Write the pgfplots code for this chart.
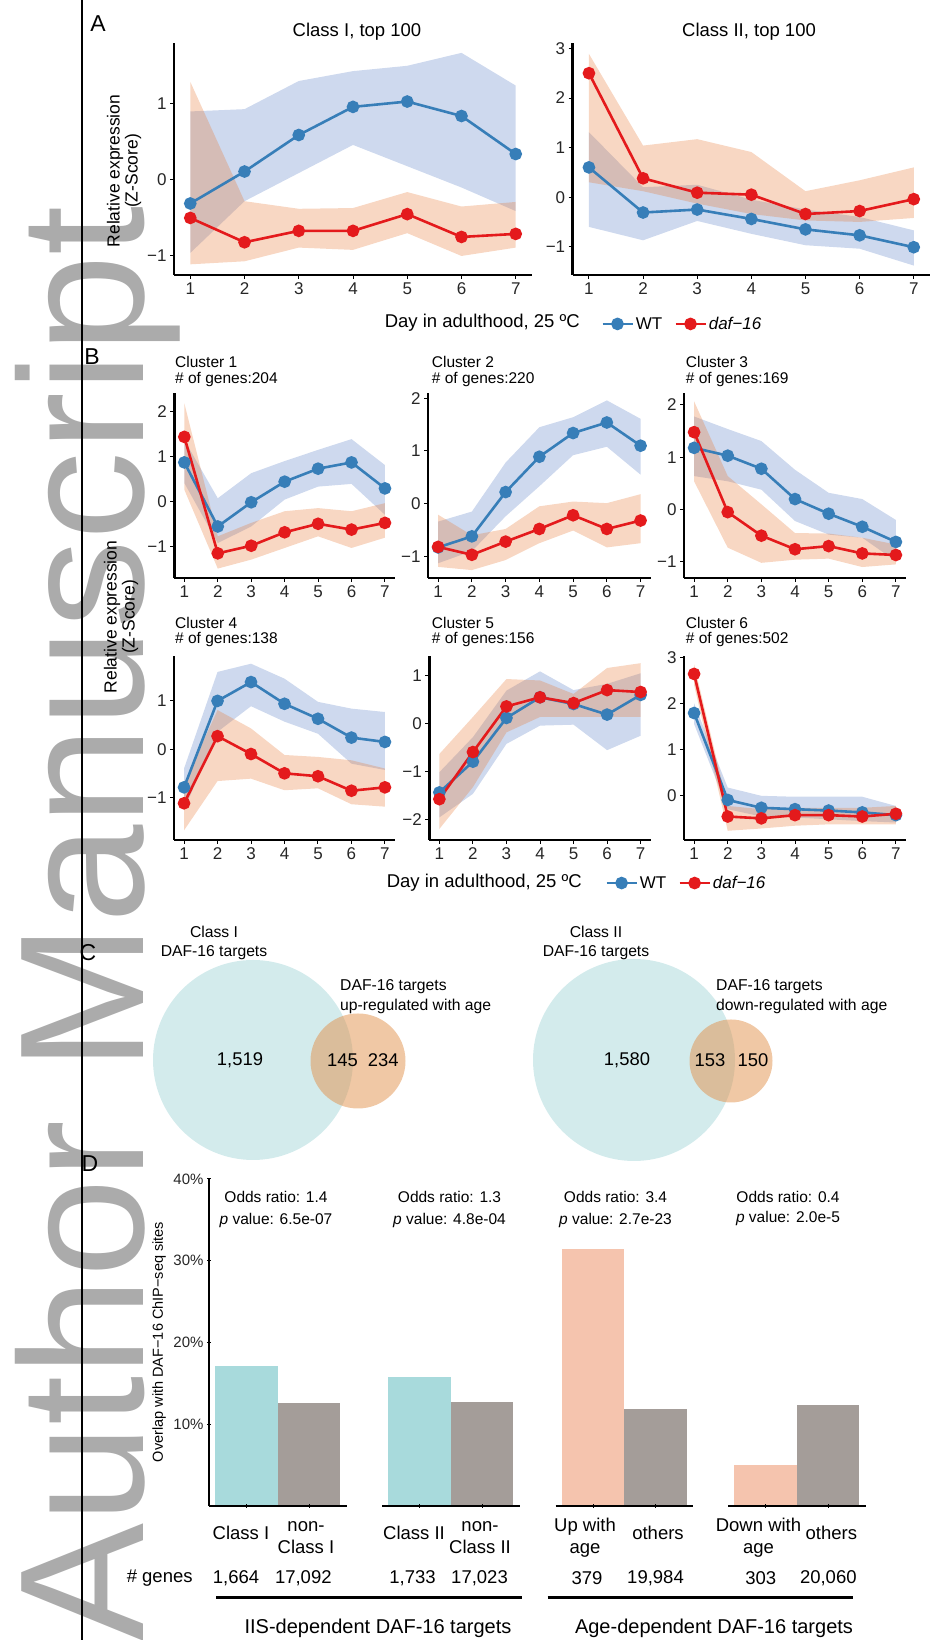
\documentclass[border=0pt]{standalone}
\usepackage{fontspec}
\setmainfont{Liberation Sans}
\usepackage{pgfplots}
\pgfplotsset{compat=1.18}
\usepackage{pgfplotstable}

\definecolor{wtc}{RGB}{55,126,184}
\definecolor{dafc}{RGB}{228,26,28}
\definecolor{ribb}{RGB}{92,128,198}
\definecolor{ribo}{RGB}{232,122,55}
\definecolor{barcyan}{RGB}{168,218,220}
\definecolor{bargray}{RGB}{164,157,153}
\definecolor{barpeach}{RGB}{245,196,174}
\definecolor{venncyan}{RGB}{168,216,218}
\definecolor{vennorange}{RGB}{225,145,75}

\newcommand{\fs}[2]{\fontsize{#1}{#2}\selectfont}

% ---------- data: means ----------
\pgfplotstableread{
day wt daf
1 -0.31 -0.50
2 0.11 -0.82
3 0.59 -0.67
4 0.96 -0.67
5 1.03 -0.45
6 0.84 -0.75
7 0.34 -0.71
}\mAa
\pgfplotstableread{
day wt daf
1 0.60 2.50
2 -0.31 0.38
3 -0.25 0.09
4 -0.44 0.05
5 -0.65 -0.34
6 -0.77 -0.28
7 -1.01 -0.04
}\mAb
\pgfplotstableread{
day wt daf
1 0.87 1.44
2 -0.56 -1.16
3 -0.02 -0.99
4 0.44 -0.69
5 0.73 -0.50
6 0.87 -0.63
7 0.29 -0.48
}\mBa
\pgfplotstableread{
day wt daf
1 -0.83 -0.82
2 -0.62 -0.97
3 0.22 -0.72
4 0.89 -0.48
5 1.34 -0.22
6 1.54 -0.48
7 1.10 -0.32
}\mBb
\pgfplotstableread{
day wt daf
1 1.18 1.48
2 1.03 -0.05
3 0.78 -0.50
4 0.20 -0.76
5 -0.08 -0.70
6 -0.33 -0.84
7 -0.62 -0.87
}\mBc
\pgfplotstableread{
day wt daf
1 -0.79 -1.12
2 1.00 0.27
3 1.39 -0.10
4 0.94 -0.50
5 0.63 -0.56
6 0.24 -0.86
7 0.15 -0.79
}\mBd
\pgfplotstableread{
day wt daf
1 -1.44 -1.58
2 -0.80 -0.60
3 0.11 0.35
4 0.54 0.54
5 0.40 0.42
6 0.18 0.69
7 0.59 0.65
}\mBe
\pgfplotstableread{
day wt daf
1 1.79 2.64
2 -0.10 -0.46
3 -0.27 -0.50
4 -0.30 -0.43
5 -0.33 -0.43
6 -0.37 -0.46
7 -0.43 -0.40
}\mBf

% ---------- data: ribbons (upper limits day 1..7, then lower limits day 7..1) ----------
\pgfplotstableread{
x wtr dafr
1 0.90 1.29
2 0.93 -0.28
3 1.30 -0.38
4 1.43 -0.37
5 1.50 -0.16
6 1.67 -0.35
7 1.24 -0.29
7 -0.41 -0.89
6 -0.10 -1.00
5 0.18 -0.70
4 0.46 -0.92
3 0.09 -0.89
2 -0.28 -1.07
1 -0.96 -1.11
}\rAa
\pgfplotstableread{
x wtr dafr
1 1.31 2.89
2 0.20 1.04
3 0.25 1.17
4 -0.05 0.91
5 -0.25 0.12
6 -0.40 0.34
7 -0.67 0.60
7 -1.38 -0.42
6 -1.04 -0.50
5 -0.97 -0.47
4 -0.74 -0.34
3 -0.48 -0.13
2 -0.87 0.12
1 -0.60 0.30
}\rAb
\pgfplotstableread{
x wtr dafr
1 1.37 2.19
2 0.07 -0.78
3 0.63 -0.48
4 0.90 -0.22
5 1.15 -0.15
6 1.39 -0.22
7 0.81 -0.04
7 -0.30 -0.81
6 0.39 -1.04
5 0.33 -0.78
4 0.04 -1.04
3 -0.56 -1.30
2 -0.93 -1.50
1 0.41 0.26
}\rBa
\pgfplotstableread{
x wtr dafr
1 -0.34 -0.21
2 -0.15 -0.60
3 0.78 -0.48
4 1.45 -0.05
5 1.64 0.04
6 1.96 0.01
7 1.61 0.18
7 0.55 -0.75
6 1.08 -0.83
5 0.92 -0.51
4 0.33 -0.75
3 -0.24 -1.07
2 -0.90 -1.26
1 -1.13 -1.20
}\rBb
\pgfplotstableread{
x wtr dafr
1 1.78 2.07
2 1.54 0.64
3 1.31 0.10
4 0.76 -0.45
5 0.32 -0.46
6 0.20 -0.54
7 -0.20 -0.67
7 -0.99 -1.05
6 -0.54 -1.10
5 -0.48 -0.94
4 -0.22 -0.96
3 0.38 -1.02
2 0.54 -0.73
1 0.64 0.54
}\rBc
\pgfplotstableread{
x wtr dafr
1 -0.40 -0.71
2 1.60 0.81
3 1.77 0.43
4 1.46 -0.12
5 0.98 -0.16
6 0.84 -0.23
7 0.77 -0.40
7 -0.43 -1.19
6 -0.30 -1.14
5 0.32 -0.81
4 0.57 -0.85
3 0.89 -0.61
2 0.36 -0.66
1 -1.26 -1.68
}\rBd
\pgfplotstableread{
x wtr dafr
1 -1.02 -0.64
2 -0.29 0.13
3 0.68 0.92
4 1.08 0.89
5 0.69 0.61
6 0.82 1.15
7 1.04 1.25
7 -0.26 0.13
6 -0.56 0.13
5 -0.03 0.13
4 -0.05 0.13
3 -0.43 -0.19
2 -1.47 -1.33
1 -1.96 -2.20
}\rBe
\pgfplotstableread{
x wtr dafr
1 2.00 2.85
2 0.17 -0.23
3 -0.01 -0.30
4 -0.03 -0.27
5 -0.03 -0.27
6 -0.03 -0.27
7 -0.23 -0.23
7 -0.59 -0.63
6 -0.56 -0.63
5 -0.52 -0.63
4 -0.48 -0.66
3 -0.46 -0.72
2 -0.30 -0.77
1 1.55 2.40
}\rBf

% ---------- styles ----------
\pgfplotsset{
  lp/.style={
    scale only axis, anchor=south west, axis on top,
    axis x line=bottom, axis y line=left,
    axis line style={-, line width=2.6pt, black},
    xmin=0.7, xmax=7.3, xtick={1,2,3,4,5,6,7}, xticklabels={1,2,3,4,5,6,7},
    tick align=outside, major tick length=4pt,
    tick style={line width=1pt, black},
    tick label style={font=\fs{17}{17}, text=black!85},
  },
  wtl/.style={wtc, line width=2.6pt, mark=*, mark size=5pt, mark options={solid, fill=wtc}},
  dfl/.style={dafc, line width=2.6pt, mark=*, mark size=5pt, mark options={solid, fill=dafc}},
  db/.style={
    scale only axis, anchor=south west, axis on top,
    width=137.5pt, height=327pt,
    xmin=0.4, xmax=2.6, ymin=0, ymax=40,
    xtick={1,2}, xticklabel=\empty,
    tick align=outside, major tick length=4pt,
    tick style={line width=1pt, black},
    tick label style={font=\fs{15}{15}, text=black!85},
  },
  dbn/.style={db, axis x line=bottom, axis y line=none, ytick=\empty,
    axis line style={-, line width=2.8pt, black}},
  legA/.style={
    legend columns=2,
    legend style={draw=none, fill=none, at={#1}, anchor=west,
      font=\fs{17}{17}, /tikz/every even column/.append style={column sep=10pt},
      cells={anchor=west}},
    legend image code/.code={\draw[mark repeat=2,mark phase=2,##1] plot coordinates {(0pt,0pt) (15pt,0pt) (30pt,0pt)};},
  },
}

\newcommand{\ribbons}[2]{%
  \addplot[fill=ribb, fill opacity=0.3, draw=none, forget plot] table[x=x,y=wtr]{#2} -- cycle;
  \addplot[fill=ribo, fill opacity=0.3, draw=none, forget plot] table[x=x,y=dafr]{#2} -- cycle;
  \addplot[wtl] table[x=day,y=wt]{#1};
  \addplot[dfl] table[x=day,y=daf]{#1};
}

\begin{document}
\begin{tikzpicture}
\path[use as bounding box] (0pt,0pt) rectangle (930pt,1640pt);

% watermark and margin line
\node[rotate=90, anchor=base west, inner sep=0pt, text=black!33, font=\fs{177}{177}] at (143pt,-2pt) {Author Manuscript};
\draw[line width=1.5pt] (82pt,0pt) -- (82pt,1640pt);

% ================= Panel A =================
\node[font=\fs{23}{23}] at (98pt,1616.5pt) {A};
\node[font=\fs{18.5}{18.5}] at (357pt,1608pt) {Class I, top 100};
\node[font=\fs{18.5}{18.5}] at (749pt,1608pt) {Class II, top 100};
\node[rotate=90, align=center, font=\fs{17.5}{18}] at (124pt,1469pt) {Relative expression\\(Z-Score)};

\begin{axis}[lp, at={(174pt,1365pt)}, width=358pt, height=232pt,
  ymin=-1.25, ymax=1.8, ytick={-1,0,1}, yticklabels={−1,0,1}]
\ribbons{\mAa}{\rAa}
\end{axis}

\begin{axis}[lp, at={(572.7pt,1365pt)}, width=357.3pt, height=232pt,
  ymin=-1.57, ymax=3.11, ytick={-1,0,1,2,3}, yticklabels={−1,0,1,2,3},
  legA={(0.0708,-0.211)}]
\ribbons{\mAb}{\rAb}
\legend{WT,\textit{daf−16}}
\end{axis}
\node[anchor=east, inner sep=0pt, font=\fs{18.5}{18.5}] at (580pt,1317pt) {Day in adulthood, 25 ºC};

% ================= Panel B =================
\node[font=\fs{23}{23}] at (92pt,1283pt) {B};
\node[rotate=90, align=center, font=\fs{17.5}{18}] at (121pt,1023pt) {Relative expression\\(Z-Score)};

\node[anchor=west, inner sep=0pt, font=\fs{15.5}{15.5}] at (175pt,1278.3pt) {Cluster 1};
\node[anchor=west, inner sep=0pt, font=\fs{15.5}{15.5}] at (175pt,1260pt) {\# of genes:204};
\node[anchor=west, inner sep=0pt, font=\fs{15.5}{15.5}] at (431.7pt,1278.3pt) {Cluster 2};
\node[anchor=west, inner sep=0pt, font=\fs{15.5}{15.5}] at (431.7pt,1260pt) {\# of genes:220};
\node[anchor=west, inner sep=0pt, font=\fs{15.5}{15.5}] at (685.7pt,1278.3pt) {Cluster 3};
\node[anchor=west, inner sep=0pt, font=\fs{15.5}{15.5}] at (685.7pt,1260pt) {\# of genes:169};
\node[anchor=west, inner sep=0pt, font=\fs{15.5}{15.5}] at (175pt,1017.3pt) {Cluster 4};
\node[anchor=west, inner sep=0pt, font=\fs{15.5}{15.5}] at (175pt,1000pt) {\# of genes:138};
\node[anchor=west, inner sep=0pt, font=\fs{15.5}{15.5}] at (431.7pt,1017.3pt) {Cluster 5};
\node[anchor=west, inner sep=0pt, font=\fs{15.5}{15.5}] at (431.7pt,1000pt) {\# of genes:156};
\node[anchor=west, inner sep=0pt, font=\fs{15.5}{15.5}] at (685.7pt,1017.3pt) {Cluster 6};
\node[anchor=west, inner sep=0pt, font=\fs{15.5}{15.5}] at (685.7pt,1000pt) {\# of genes:502};

\begin{axis}[lp, at={(174.3pt,1062pt)}, width=220.7pt, height=185pt,
  ymin=-1.71, ymax=2.42, ytick={-1,0,1,2}, yticklabels={−1,0,1,2}]
\ribbons{\mBa}{\rBa}
\end{axis}
\begin{axis}[lp, at={(428pt,1062pt)}, width=222.7pt, height=185pt,
  ymin=-1.41, ymax=2.10, ytick={-1,0,1,2}, yticklabels={−1,0,1,2}]
\ribbons{\mBb}{\rBb}
\end{axis}
\begin{axis}[lp, at={(684pt,1062pt)}, width=222pt, height=185pt,
  ymin=-1.31, ymax=2.23, ytick={-1,0,1,2}, yticklabels={−1,0,1,2}]
\ribbons{\mBc}{\rBc}
\end{axis}
\begin{axis}[lp, at={(174pt,800pt)}, width=221pt, height=184pt,
  ymin=-1.88, ymax=1.93, ytick={-1,0,1}, yticklabels={−1,0,1}]
\ribbons{\mBd}{\rBd}
\end{axis}
\begin{axis}[lp, at={(429.3pt,800pt)}, width=221.4pt, height=184pt,
  ymin=-2.43, ymax=1.40, ytick={-2,-1,0,1}, yticklabels={−2,−1,0,1}]
\ribbons{\mBe}{\rBe}
\end{axis}
\begin{axis}[lp, at={(684pt,800pt)}, width=222pt, height=184pt,
  ymin=-0.97, ymax=3.03, ytick={0,1,2,3}, yticklabels={0,1,2,3},
  legA={(-0.369,-0.234)}]
\ribbons{\mBf}{\rBf}
\legend{WT,\textit{daf−16}}
\end{axis}
\node[anchor=east, inner sep=0pt, font=\fs{18.5}{18.5}] at (582pt,757pt) {Day in adulthood, 25 ºC};

% ================= Panel C =================
\node[font=\fs{23}{23}] at (88pt,687.5pt) {C};
\begin{axis}[hide axis, scale only axis, anchor=south west, at={(0pt,0pt)},
  width=930pt, height=1640pt, xmin=0, xmax=930, ymin=0, ymax=1640, clip=false]
\fill[venncyan, fill opacity=0.5] (axis cs:253,580) circle[radius=100];
\fill[vennorange, fill opacity=0.5] (axis cs:358,579) circle[radius=47.5];
\fill[venncyan, fill opacity=0.5] (axis cs:634,580) circle[radius=101];
\fill[vennorange, fill opacity=0.5] (axis cs:731,579) circle[radius=41.5];
\end{axis}
\node[align=center, font=\fs{15.7}{19}] at (214pt,697.5pt) {Class I\\DAF-16 targets};
\node[align=center, font=\fs{15.7}{19}] at (596pt,697.5pt) {Class II\\DAF-16 targets};
\node[align=left, anchor=west, inner sep=0pt, font=\fs{15.7}{19.7}] at (340pt,643pt) {DAF-16 targets\\up-regulated with age};
\node[align=left, anchor=west, inner sep=0pt, font=\fs{15.7}{19.7}] at (716pt,643pt) {DAF-16 targets\\down-regulated with age};
\node[font=\fs{18.4}{18.4}] at (240pt,580pt) {1,519};
\node[font=\fs{18.4}{18.4}] at (342.5pt,580pt) {145};
\node[font=\fs{18.4}{18.4}] at (383.3pt,580pt) {234};
\node[font=\fs{18.4}{18.4}] at (627pt,580pt) {1,580};
\node[font=\fs{18.4}{18.4}] at (710pt,580pt) {153};
\node[font=\fs{18.4}{18.4}] at (753pt,580pt) {150};

% ================= Panel D =================
\node[font=\fs{23}{23}] at (90pt,476pt) {D};
\node[rotate=90, font=\fs{14.5}{14.5}] at (159pt,298pt) {Overlap with DAF−16 ChIP−seq sites};

\begin{axis}[db, at={(209pt,134pt)},
  axis x line=bottom, axis y line=left,
  x axis line style={-, line width=2.8pt, black},
  y axis line style={-, line width=2.2pt, black},
  ytick={10,20,30,40}, yticklabels={10\%,20\%,30\%,40\%}]
\addplot[ybar, bar width=1, bar shift=0pt, fill=barcyan, draw=none] coordinates {(1,17.1)};
\addplot[ybar, bar width=1, bar shift=0pt, fill=bargray, draw=none] coordinates {(2,12.6)};
\end{axis}
\begin{axis}[dbn, at={(382pt,134pt)}]
\addplot[ybar, bar width=1, bar shift=0pt, fill=barcyan, draw=none] coordinates {(1,15.8)};
\addplot[ybar, bar width=1, bar shift=0pt, fill=bargray, draw=none] coordinates {(2,12.7)};
\end{axis}
\begin{axis}[dbn, at={(555.5pt,134pt)}]
\addplot[ybar, bar width=1, bar shift=0pt, fill=barpeach, draw=none] coordinates {(1,31.4)};
\addplot[ybar, bar width=1, bar shift=0pt, fill=bargray, draw=none] coordinates {(2,11.9)};
\end{axis}
\begin{axis}[dbn, at={(728pt,134pt)}]
\addplot[ybar, bar width=1, bar shift=0pt, fill=barpeach, draw=none] coordinates {(1,5.0)};
\addplot[ybar, bar width=1, bar shift=0pt, fill=bargray, draw=none] coordinates {(2,12.3)};
\end{axis}

\node[align=center, font=\fs{15.5}{22}] at (276pt,431pt) {Odds ratio: 1.4\\\textit{p} value: 6.5e-07};
\node[align=center, font=\fs{15.5}{22}] at (449.5pt,431pt) {Odds ratio: 1.3\\\textit{p} value: 4.8e-04};
\node[align=center, font=\fs{15.5}{22}] at (615.5pt,431pt) {Odds ratio: 3.4\\\textit{p} value: 2.7e-23};
\node[align=center, font=\fs{15.5}{20}] at (788pt,432pt) {Odds ratio: 0.4\\\textit{p} value: 2.0e-5};

\node[font=\fs{18.5}{21.6}] at (241pt,107pt) {Class I};
\node[align=center, font=\fs{18.5}{21.6}] at (306pt,102.5pt) {non-\\Class I};
\node[font=\fs{18.5}{21.6}] at (414pt,107pt) {Class II};
\node[align=center, font=\fs{18.5}{21.6}] at (480pt,102.5pt) {non-\\Class II};
\node[align=center, font=\fs{18.5}{21.6}] at (585pt,102.5pt) {Up with\\age};
\node[font=\fs{18.5}{21.6}] at (658pt,107pt) {others};
\node[align=center, font=\fs{18.5}{21.6}] at (758.5pt,102.5pt) {Down with\\age};
\node[font=\fs{18.5}{21.6}] at (831.3pt,107pt) {others};

\node[font=\fs{18.5}{18.5}] at (159.7pt,61.7pt) {\# genes};
\node[font=\fs{18.5}{18.5}] at (236pt,61.7pt) {1,664};
\node[font=\fs{18.5}{18.5}] at (303.3pt,61.7pt) {17,092};
\node[font=\fs{18.5}{18.5}] at (412.5pt,61.7pt) {1,733};
\node[font=\fs{18.5}{18.5}] at (479.5pt,61.7pt) {17,023};
\node[font=\fs{18.5}{18.5}] at (587pt,61.7pt) {379};
\node[font=\fs{18.5}{18.5}] at (655.5pt,61.7pt) {19,984};
\node[font=\fs{18.5}{18.5}] at (760.8pt,61.7pt) {303};
\node[font=\fs{18.5}{18.5}] at (828.3pt,61.7pt) {20,060};

\draw[line width=2.5pt] (216pt,42.3pt) -- (521.7pt,42.3pt);
\draw[line width=2.5pt] (547.7pt,42.3pt) -- (853.3pt,42.3pt);
\node[font=\fs{20}{20}] at (378pt,11.7pt) {IIS-dependent DAF-16 targets};
\node[font=\fs{20}{20}] at (714pt,11.7pt) {Age-dependent DAF-16 targets};

\end{tikzpicture}
\end{document}
